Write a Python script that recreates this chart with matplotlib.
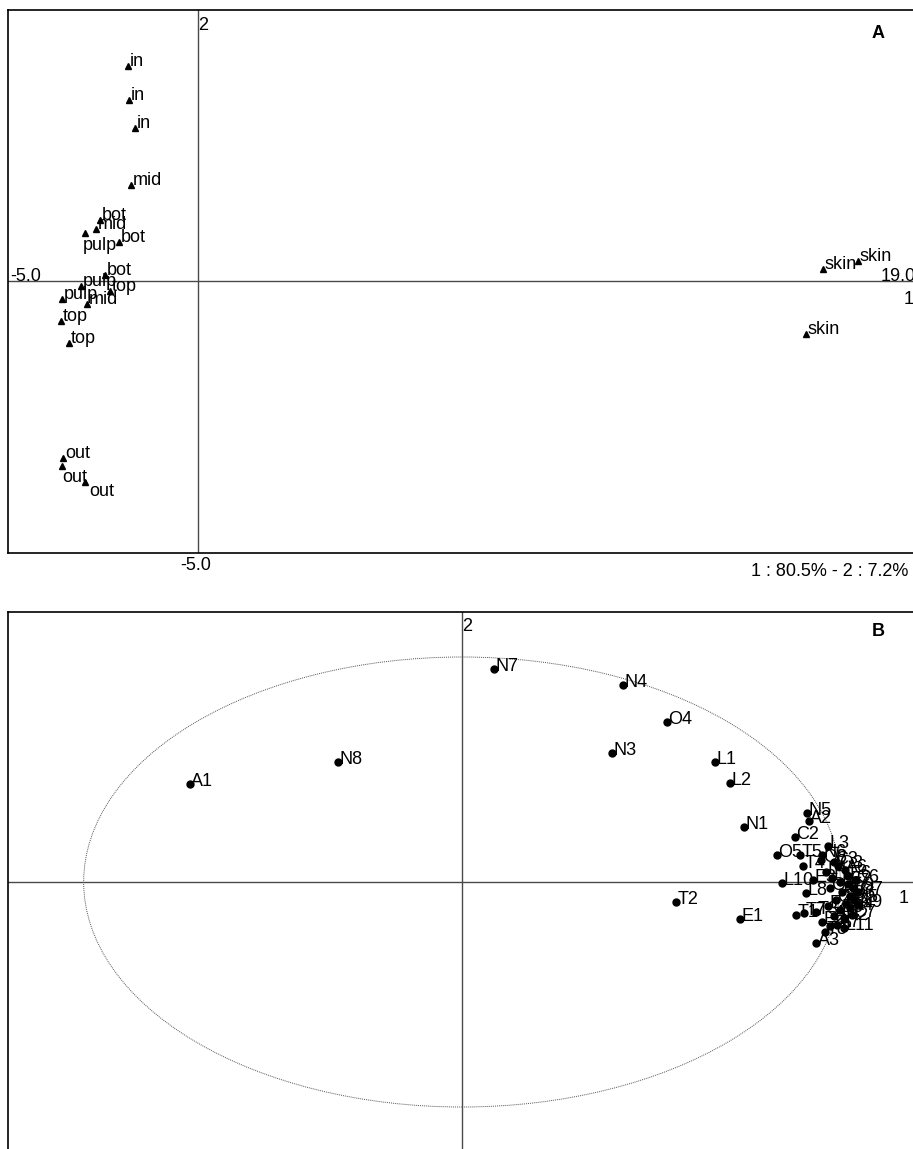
"""Two-panel ordination plot: sample scores (A) and correlation circle (B)."""

import matplotlib

matplotlib.use("Agg")
import matplotlib.pyplot as plt
from matplotlib.patches import Ellipse

plt.rcParams["font.family"] = ["Liberation Sans", "DejaVu Sans"]
plt.rcParams["font.size"] = 13

# Panel A: sample scores on axes 1 and 2
sample_labels = ["in", "in", "in", "mid", "bot", "mid", "pulp", "bot", "bot",
                 "pulp", "top", "pulp", "mid", "top", "top", "out", "out",
                 "out", "skin", "skin", "skin"]
sample_x = [-1.84, -1.82, -1.66, -1.76, -2.58, -2.68, -2.97, -2.08, -2.45,
            -3.08, -2.32, -3.58, -2.92, -3.61, -3.39, -3.55, -3.58, -2.97,
            16.45, 17.37, 16.00]
sample_y = [5.68, 4.79, 4.05, 2.55, 1.61, 1.37, 1.29, 1.03, 0.18,
            -0.13, -0.26, -0.45, -0.58, -1.05, -1.63, -4.66, -4.87, -5.29,
            0.34, 0.53, -1.37]
inertia_text = "1 : 80.5% - 2 : 7.2%"

# Panel B: variable correlations with axes 1 and 2
var_labels = ["A1", "N8", "N7", "N4", "O4", "N3", "L1", "L2", "N1", "N5",
              "A2", "C2", "O5", "T5", "T4", "L10", "L8", "T2", "E1", "T1",
              "T7", "T3", "E2", "A3", "N6", "L3", "C3", "O3", "A6", "E3",
              "L4", "L5", "L6", "L7", "L9", "O1", "O2", "O6", "C1", "C4",
              "C5", "E4", "E5", "A4", "A5", "N2", "T6", "C6", "O7", "E6",
              "N9", "A7", "L11", "T8", "C7", "O8"]
var_x = [-0.719, -0.328, 0.085, 0.426, 0.542, 0.397, 0.669, 0.708, 0.745,
         0.912, 0.917, 0.880, 0.833, 0.893, 0.901, 0.846, 0.909, 0.566,
         0.735, 0.883, 0.904, 0.936, 0.952, 0.936, 0.952, 0.967, 0.983,
         0.994, 1.012, 0.928, 0.962, 0.978, 0.999, 1.020, 1.034, 0.973,
         1.004, 1.026, 0.989, 1.015, 1.036, 0.967, 0.999, 1.026, 0.983,
         1.010, 0.973, 1.039, 1.047, 1.020, 1.047, 0.992, 1.010, 0.960,
         1.031, 0.950]
var_y = [0.436, 0.533, 0.947, 0.876, 0.711, 0.573, 0.533, 0.440, 0.244,
         0.307, 0.271, 0.200, 0.120, 0.120, 0.071, -0.004, -0.049, -0.089,
         -0.164, -0.147, -0.138, -0.133, -0.178, -0.271, 0.120, 0.160,
         0.089, 0.071, 0.053, 0.009, 0.044, 0.018, 0.000, -0.009, -0.027,
         -0.027, -0.044, -0.062, -0.080, -0.098, -0.080, -0.107, -0.124,
         -0.116, -0.151, -0.160, -0.196, 0.009, -0.044, 0.027, -0.102,
         -0.191, -0.204, -0.222, -0.147, 0.098]

W, H = 913, 1149
AXIS_GREY = "#4a4a4a"


def px_box(left, top, right, bottom):
    """Convert a pixel box (origin top-left) to figure fractions."""
    return [left / W, 1 - bottom / H, (right - left) / W, (bottom - top) / H]


def style_panel(ax):
    ax.set_xticks([])
    ax.set_yticks([])
    for spine in ax.spines.values():
        spine.set_color("black")
        spine.set_linewidth(1.2)
    ax.axhline(0, color=AXIS_GREY, linewidth=1.0, zorder=1)
    ax.axvline(0, color=AXIS_GREY, linewidth=1.0, zorder=1)


fig = plt.figure(figsize=(W / 100, H / 100), dpi=100)

# --- panel A ---
ax_a = fig.add_axes(px_box(8, 10, 920, 553))
ax_a.set_xlim(-5, 19)
ax_a.set_ylim(-7.15, 7.15)
style_panel(ax_a)
ax_a.plot(sample_x, sample_y, linestyle="none", marker="^", markersize=5,
          color="black", zorder=3)

# most labels sit up-right of their marker; a few are pushed below
label_shift_a = {6: (-1.5, -3.5, "top"), 16: (0, -2, "top"), 17: (3, -0.5, "top")}
for i, (lab, x, y) in enumerate(zip(sample_labels, sample_x, sample_y)):
    dx, dy, va = label_shift_a.get(i, (1.2, 0, "baseline"))
    ax_a.annotate(lab, (x, y), xytext=(dx, dy), textcoords="offset points",
                  ha="left", va=va, zorder=4)

ax_a.annotate("-5.0", (-5, 0), xytext=(1.5, 0), textcoords="offset points",
              ha="left", va="baseline")
ax_a.annotate("19.0", (19, 0), xytext=(-3, 0), textcoords="offset points",
              ha="right", va="baseline")
ax_a.annotate("1", (19, 0), xytext=(-12, -7), textcoords="offset points",
              ha="left", va="top")
ax_a.annotate("2", (0, 7.15), xytext=(0, -5), textcoords="offset points",
              ha="left", va="top")

fig.text(878 / W, 1 - 33 / H, "A", ha="center", va="center",
         fontweight="bold", fontsize=13)
fig.text(196 / W, 1 - 566 / H, "-5.0", ha="center", va="center")
fig.text(908 / W, 1 - 571 / H, inertia_text, ha="right", va="center")

# --- panel B ---
ax_b = fig.add_axes(px_box(8, 612, 916, 1152))
ax_b.set_xlim(-1.2, 1.2)
ax_b.set_ylim(-1.2, 1.2)
style_panel(ax_b)
ax_b.add_patch(Ellipse((0, 0), 2, 2, fill=False, edgecolor="#555555",
                       linewidth=0.7, linestyle=(0, (1, 1)), zorder=2))
ax_b.plot(var_x, var_y, linestyle="none", marker="o", markersize=5,
          color="black", zorder=3)
for lab, x, y in zip(var_labels, var_x, var_y):
    ax_b.annotate(lab, (x, y), xytext=(1, -1.5), textcoords="offset points",
                  ha="left", va="baseline", zorder=4)

ax_b.annotate("2", (0, 1.2), xytext=(0, -4), textcoords="offset points",
              ha="left", va="top")
ax_b.text(1.155, -0.036, "1", ha="left", va="top")
fig.text(878 / W, 1 - 632 / H, "B", ha="center", va="center",
         fontweight="bold", fontsize=13)

fig.savefig("out.png", dpi=100)
plt.close(fig)
